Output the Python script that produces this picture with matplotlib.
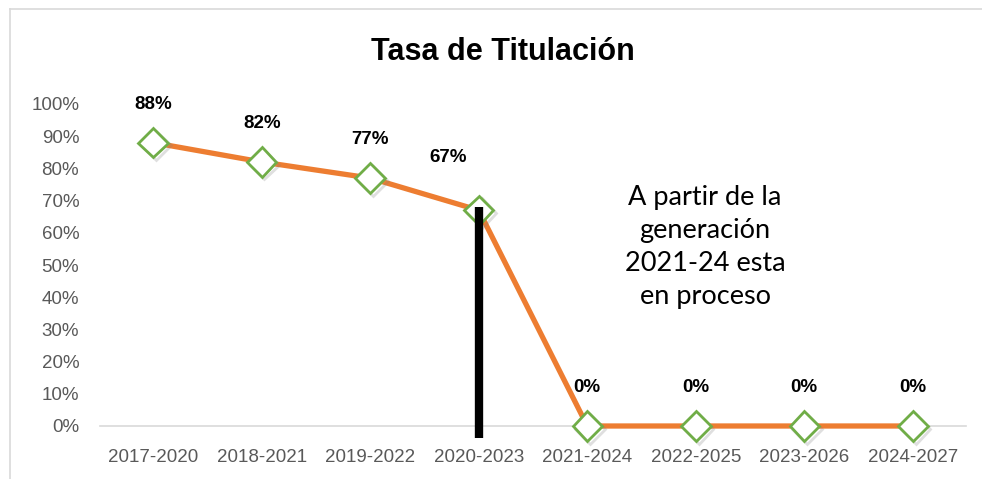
import matplotlib.pyplot as plt
from matplotlib.lines import Line2D
import matplotlib.patheffects as pe

generaciones = ['2017-2020', '2018-2021', '2019-2022', '2020-2023',
                '2021-2024', '2022-2025', '2023-2026', '2024-2027']
tasa = [0.88, 0.82, 0.77, 0.67, 0, 0, 0, 0]
etiquetas = ['88%', '82%', '77%', '67%', '0%', '0%', '0%', '0%']
nota = 'A partir de la\ngeneración\n2021-24 esta\nen proceso'

narrow = ['Liberation Sans Narrow', 'Liberation Sans', 'DejaVu Sans']

fig = plt.figure(figsize=(9.82, 4.79), dpi=100)
ax = fig.add_axes([100 / 982, 1 - 426 / 479, 866 / 982, 322 / 479])

x = list(range(len(generaciones)))
shadow = [pe.SimpleLineShadow(offset=(2, -2), shadow_color='gray', alpha=0.25), pe.Normal()]
ax.plot(x, tasa, color='#ED7D31', lw=3.8, zorder=3, clip_on=False)
ax.plot(x, tasa, ls='none', marker='D', ms=15, mfc='white', mec='#70AD47', mew=2,
        zorder=4, path_effects=shadow, clip_on=False)

for i, (xi, yi, lab) in enumerate(zip(x, tasa, etiquetas)):
    # la etiqueta de 67% está desplazada a la izquierda en el original
    off = (-22, 38) if i == 3 else (0, 27.5)
    ax.annotate(lab, (xi, yi), xytext=off, textcoords='offset points',
                ha='center', va='center', fontsize=13.5, fontweight='bold',
                family=narrow, color='black')

# barra vertical negra en 2020-2023
ax.plot([3, 3], [-0.036, 0.68], color='black', lw=6, solid_capstyle='butt',
        zorder=5, clip_on=False)

ax.text(5.085, 0.555, nota, ha='center', va='center', fontsize=19.5,
        family=['Lato', 'DejaVu Sans'], linespacing=1.4)

ax.set_xlim(-0.49, 7.49)
ax.set_ylim(0, 1.0)
ax.set_xticks(x)
ax.set_xticklabels(generaciones)
ax.set_yticks([i / 10 for i in range(11)])
ax.set_yticklabels([f'{i * 10}%' for i in range(11)])
for lab in ax.get_xticklabels() + ax.get_yticklabels():
    lab.set_family(narrow)
    lab.set_fontsize(13.5)
    lab.set_color('#595959')
ax.tick_params(axis='x', length=0, pad=16.5)
ax.tick_params(axis='y', length=0, pad=15)
for s in ['top', 'right', 'left']:
    ax.spines[s].set_visible(False)
ax.spines['bottom'].set_color('#D9D9D9')
ax.spines['bottom'].set_linewidth(1.2)

fig.text(503 / 982, 1 - 52 / 479, 'Tasa de Titulación', ha='center', va='center',
         fontsize=22, fontweight='bold', family=narrow)

# borde del gráfico
fig.add_artist(Line2D([10 / 982, 1], [1 - 9 / 479] * 2, color='#D9D9D9', lw=1.2))
fig.add_artist(Line2D([10 / 982] * 2, [0, 1 - 9 / 479], color='#D9D9D9', lw=1.2))

fig.savefig('out.png', dpi=100)
